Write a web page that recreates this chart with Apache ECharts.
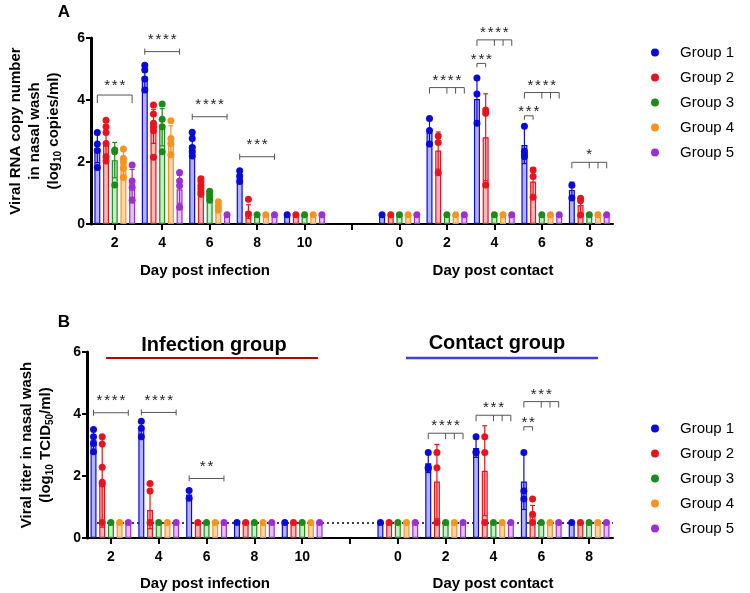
<!DOCTYPE html>
<html><head><meta charset="utf-8">
<script src="https://cdn.jsdelivr.net/npm/echarts@6/dist/echarts.min.js"></script>
<style>html,body{margin:0;padding:0;background:#fff}#c{width:750px;height:593px}</style>
</head><body><div id="c"></div>
<script>
// ---------- DATA ----------
const categories = ['2','4','6','8','10','','0','2','4','6','8'];
const groups = ['Group 1','Group 2','Group 3','Group 4','Group 5'];

// Panel A: viral RNA (log10 copies/ml) — bar heights (mean), SD, individual animals
const rnaMean = [
  [2.43, 4.75, 2.55, 1.55, 0.3, null, 0.3, 2.95, 4.03, 2.55, 1.10],
  [2.65, 3.15, 1.20, 0.40, 0.3, null, 0.3, 2.37, 2.80, 1.37, 0.61],
  [2.06, 3.12, 0.90, 0.30, 0.3, null, 0.3, 0.30, 0.30, 0.30, 0.30],
  [1.96, 2.72, 0.60, 0.30, 0.3, null, 0.3, 0.30, 0.30, 0.30, 0.30],
  [1.31, 1.12, 0.30, 0.30, 0.3, null, 0.3, 0.30, 0.30, 0.30, 0.30]
];
const rnaSD = [
  [0.45, 0.35, 0.30, 0.18, 0, null, 0, 0.45, 0.70, 0.60, 0.25],
  [0.50, 0.55, 0.20, 0.22, 0, null, 0, 0.60, 1.40, 0.45, 0.27],
  [0.57, 0.60, 0.12, 0, 0, null, 0, 0, 0, 0, 0],
  [0.40, 0.45, 0.12, 0, 0, null, 0, 0, 0, 0, 0],
  [0.45, 0.45, 0, 0, 0, null, 0, 0, 0, 0, 0]
];
const rnaPts = [
  [[2.95,2.58,2.37,1.82],[5.12,4.97,4.68,4.32],[2.96,2.76,2.47,2.33,2.19],[1.72,1.55,1.37],[0.3],[],[0.3],[3.40,3.02,2.58],[4.71,4.19,3.25],[3.15,2.35,2.23,2.17],[1.25,0.84]],
  [[3.35,3.14,2.95,2.60,2.17,2.03],[3.84,3.55,3.25,3.14,3.01,2.15],[1.46,1.37,1.25,1.15,1.04,0.96],[0.80,0.32],[0.3],[],[0.3],[2.84,2.63,1.65],[3.68,3.57,1.26],[1.74,1.53,0.86],[0.83,0.75,0.29]],
  [[2.39,2.33,1.26],[3.87,3.38,3.14,2.33],[1.06,0.97,0.88,0.77],[0.3],[0.3],[],[0.3],[0.3],[0.3],[0.3],[0.3]],
  [[2.42,2.12,2.01,1.80,1.50],[3.33,2.76,2.60,2.23],[0.72,0.58,0.45],[0.3],[0.3],[],[0.3],[0.3],[0.3],[0.3],[0.3]],
  [[1.90,1.39,1.18,0.77],[1.66,1.39,1.23,0.54],[0.3],[0.3],[0.3],[],[0.3],[0.3],[0.3],[0.3],[0.3]]
];

// Panel B: viral titer (log10 TCID50/ml)
const titerMean = [
  [3.15, 3.50, 1.40, 0.5, 0.5, null, 0.5, 2.41, 2.90, 1.82, 0.5],
  [1.80, 0.90, 0.50, 0.5, 0.5, null, 0.5, 1.82, 2.17, 0.75, 0.5],
  [0.5, 0.5, 0.5, 0.5, 0.5, null, 0.5, 0.5, 0.5, 0.5, 0.5],
  [0.5, 0.5, 0.5, 0.5, 0.5, null, 0.5, 0.5, 0.5, 0.5, 0.5],
  [0.5, 0.5, 0.5, 0.5, 0.5, null, 0.5, 0.5, 0.5, 0.5, 0.5]
];
const titerSD = [
  [0.30, 0.25, 0.15, 0, 0, null, 0, 0.30, 0.30, 0.90, 0],
  [1.45, 0.60, 0, 0, 0, null, 0, 1.20, 1.45, 0.30, 0],
  [0,0,0,0,0,null,0,0,0,0,0],
  [0,0,0,0,0,null,0,0,0,0,0],
  [0,0,0,0,0,null,0,0,0,0,0]
];
const titerPts = [
  [[3.50,3.27,3.05,2.78],[3.77,3.54,3.27],[1.53,1.28],[0.5],[0.5],[],[0.5],[2.76,2.28,2.24],[3.27,2.78,2.75],[2.76,1.52,1.26],[0.5]],
  [[3.27,3.03,2.28,1.80,1.74,0.5],[1.76,1.52,0.5],[0.5],[0.5],[0.5],[],[0.5],[2.76,2.27,0.5],[3.27,2.76,0.5],[1.26,0.77,0.5],[0.5]],
  [[0.5],[0.5],[0.5],[0.5],[0.5],[],[0.5],[0.5],[0.5],[0.5],[0.5]],
  [[0.5],[0.5],[0.5],[0.5],[0.5],[],[0.5],[0.5],[0.5],[0.5],[0.5]],
  [[0.5],[0.5],[0.5],[0.5],[0.5],[],[0.5],[0.5],[0.5],[0.5],[0.5]]
];
const detectionLimitB = 0.5;

// significance brackets: [category, fromGroup, toGroup, height, stars, kind]
const sigA = [
  [0, 0, 4, 4.16, 3, 'D'],
  [1, 0, 4, 5.56, 4, 'I'],
  [2, 0, 4, 3.46, 4, 'I'],
  [3, 0, 4, 2.17, 3, 'I'],
  [7, 0, 4, 4.40, 4, 'M'],
  [8, 0, 4, 5.94, 4, 'M'],
  [8, 0, 1, 5.18, 3, 'S'],
  [9, 0, 4, 4.24, 4, 'M'],
  [9, 0, 1, 3.49, 3, 'S'],
  [10, 0, 4, 1.99, 1, 'M']
];
const sigB = [
  [0, 0, 4, 4.04, 4, 'I'],
  [1, 0, 4, 4.05, 4, 'I'],
  [2, 0, 4, 1.92, 2, 'I'],
  [7, 0, 4, 3.38, 4, 'M'],
  [8, 0, 4, 3.96, 3, 'M'],
  [9, 0, 4, 4.40, 3, 'M'],
  [9, 0, 1, 3.59, 2, 'S']
];

// ---------- STYLE ----------
const FONT = '"Liberation Sans", Arial, sans-serif';
const cols  = ['#0a0ad8', '#e8141c', '#1e8a1e', '#f7941d', '#9b2fd4'];
const fills = ['#b3b3f3', '#f6b9b9', '#c4eec4', '#f9d4ae', '#e6bff3'];
const BAR_W = 6, GAP_PCT = 0.45, STEP = BAR_W * (1 + GAP_PCT);
const offs = g => (g - 2) * STEP;

const chart = echarts.init(document.getElementById('c'), null, {renderer: 'canvas'});

function panelSeries(p, mean, sd, pts) {
  const out = [];
  for (let g = 0; g < 5; g++) {
    const bar = {
      type: 'bar', name: groups[g], xAxisIndex: p, yAxisIndex: p,
      data: mean[g], barWidth: BAR_W, barGap: (GAP_PCT * 100) + '%', z: 2,
      itemStyle: {color: fills[g], borderColor: cols[g], borderWidth: 1.2},
      emphasis: {disabled: true}, silent: true
    };
    if (p === 1 && g === 0) {
      bar.markLine = {
        silent: true, symbol: 'none', z: 1, label: {show: false},
        lineStyle: {type: [2, 3], color: '#000', width: 1.6},
        data: [{yAxis: detectionLimitB}]
      };
    }
    out.push(bar);
    const errData = [];
    mean[g].forEach((m, i) => { if (m != null && sd[g][i]) errData.push([i, m, sd[g][i]]); });
    const col = cols[g];
    out.push({
      type: 'custom', name: groups[g], xAxisIndex: p, yAxisIndex: p, z: 3, silent: true,
      data: errData,
      renderItem: (params, api) => {
        const c = api.value(0), m = api.value(1), s = api.value(2);
        const top = api.coord([c, m + s]);
        const bot = api.coord([c, Math.max(m - s, 0)]);
        const x = top[0] + offs(g);
        const st = {stroke: col, lineWidth: 1.2};
        return {type: 'group', children: [
          {type: 'line', shape: {x1: x, y1: top[1], x2: x, y2: bot[1]}, style: st},
          {type: 'line', shape: {x1: x - 2.5, y1: top[1], x2: x + 2.5, y2: top[1]}, style: st},
          {type: 'line', shape: {x1: x - 2.5, y1: bot[1], x2: x + 2.5, y2: bot[1]}, style: st}
        ]};
      }
    });
    const dots = [];
    pts[g].forEach((arr, i) => arr.forEach(v => dots.push([i, v])));
    out.push({
      type: 'scatter', name: groups[g], xAxisIndex: p, yAxisIndex: p, z: 4, silent: true,
      data: dots, symbol: 'circle', symbolSize: 7, symbolOffset: [offs(g), 0],
      itemStyle: {color: cols[g], opacity: 1}
    });
  }
  return out;
}

function sigSeries(p, sig) {
  return {
    type: 'custom', xAxisIndex: p, yAxisIndex: p, z: 5, silent: true,
    data: sig.map((s, i) => [s[0], s[3], i]),
    renderItem: (params, api) => {
      const s = sig[api.value(2)];
      const pt = api.coord([s[0], s[3]]);
      const x1 = pt[0] + offs(s[1]), x2 = pt[0] + offs(s[2]), y = pt[1];
      const st = {stroke: '#555', lineWidth: 1};
      const ch = [{type: 'line', shape: {x1, y1: y, x2, y2: y}, style: st}];
      const kind = s[5];
      let starDy = 11;
      if (kind === 'I') {
        ch.push({type: 'line', shape: {x1, y1: y - 3, x2: x1, y2: y + 3}, style: st});
        ch.push({type: 'line', shape: {x1: x2, y1: y - 3, x2, y2: y + 3}, style: st});
        starDy = 16;
      } else if (kind === 'D') {
        ch.push({type: 'line', shape: {x1, y1: y, x2: x1, y2: y + 8}, style: st});
        ch.push({type: 'line', shape: {x1: x2, y1: y, x2, y2: y + 8}, style: st});
        starDy = 13;
      } else if (kind === 'M') {
        [0, 2, 3, 4].forEach(gg => {
          const xx = pt[0] + offs(gg);
          ch.push({type: 'line', shape: {x1: xx, y1: y, x2: xx, y2: y + 6}, style: st});
        });
        starDy = 11;
      } else if (kind === 'S') {
        ch.push({type: 'line', shape: {x1, y1: y, x2: x1, y2: y + 4}, style: st});
        ch.push({type: 'line', shape: {x1: x2, y1: y, x2, y2: y + 4}, style: st});
        starDy = 8;
      }
      const n = s[4], pitch = 7.6, cx = (x1 + x2) / 2;
      for (let k = 0; k < n; k++) {
        ch.push({type: 'text', style: {
          text: '*', x: cx + (k - (n - 1) / 2) * pitch, y: y - starDy + 4,
          align: 'center', verticalAlign: 'middle',
          font: '15px ' + FONT, fill: '#222'
        }});
      }
      return {type: 'group', children: ch};
    }
  };
}

const axisLabelStyle = {fontSize: 14, fontWeight: 'bold', color: '#000', fontFamily: FONT};
function xAx(p) {
  return {
    gridIndex: p, type: 'category', data: categories, boundaryGap: true,
    axisLine: {show: true, lineStyle: {color: '#000', width: 2}},
    axisTick: {show: true, alignWithLabel: true, interval: 0, length: 6, lineStyle: {color: '#000', width: 2}},
    axisLabel: Object.assign({interval: 0, margin: 12}, axisLabelStyle),
    splitLine: {show: false}
  };
}
const richY = {
  t: {fontSize: 15, fontWeight: 'bold', fontFamily: FONT, color: '#000', lineHeight: 19},
  s: {fontSize: 10, fontWeight: 'bold', fontFamily: FONT, color: '#000', lineHeight: 19, verticalAlign: 'bottom'}
};
function yAx(p, name, gap) {
  return {
    gridIndex: p, type: 'value', min: 0, max: 6, interval: 2,
    axisLine: {show: true, lineStyle: {color: '#000', width: 3}},
    axisTick: {show: true, length: 5, lineStyle: {color: '#000', width: 2}},
    axisLabel: Object.assign({margin: 6}, axisLabelStyle),
    splitLine: {show: false},
    name: name, nameLocation: 'middle', nameRotate: 90, nameGap: gap,
    nameTextStyle: {rich: richY, align: 'center'}
  };
}
function legend(top) {
  return {
    orient: 'vertical', left: 651, top: top, padding: 0,
    itemWidth: 40, itemHeight: 6, itemGap: 10, icon: 'circle',
    textStyle: {fontSize: 15, fontFamily: FONT, color: '#000', lineHeight: 15},
    selectedMode: false,
    data: groups.map((n, i) => ({name: n, itemStyle: {color: cols[i]}}))
  };
}
function txt(x, y, s, size, weight) {
  return {type: 'text', x, y, style: {text: s, font: (weight || 'bold') + ' ' + size + 'px ' + FONT,
    fill: '#000', align: 'center', verticalAlign: 'middle'}};
}

const option = {
  animation: false,
  backgroundColor: '#fff',
  grid: [
    {left: 87, top: 38, width: 526, height: 186},
    {left: 87, top: 352, width: 526, height: 186}
  ],
  xAxis: [xAx(0), xAx(1)],
  yAxis: [
    yAx(0, '{t|Viral RNA copy number}\n{t|in nasal wash}\n{t|(log}{s|10}{t| copies/ml)}', 28),
    yAx(1, '{t|Viral titer in nasal wash}\n{t|(log}{s|10}{t| TCID}{s|50}{t|/ml)}', 32)
  ],
  legend: [legend(45), legend(421)],
  series: [].concat(
    panelSeries(0, rnaMean, rnaSD, rnaPts),
    panelSeries(1, titerMean, titerSD, titerPts),
    [sigSeries(0, sigA), sigSeries(1, sigB)]
  ),
  graphic: [
    txt(64, 12, 'A', 17),
    txt(64, 322, 'B', 17),
    txt(205, 271, 'Day post infection', 15),
    txt(493, 271, 'Day post contact', 15),
    txt(205, 584, 'Day post infection', 15),
    txt(493, 584, 'Day post contact', 15),
    txt(214, 345, 'Infection group', 20),
    txt(497, 343, 'Contact group', 20),
    {type: 'line', shape: {x1: 106, y1: 358, x2: 318, y2: 358}, style: {stroke: '#c00000', lineWidth: 2}},
    {type: 'line', shape: {x1: 406, y1: 358, x2: 598, y2: 358}, style: {stroke: '#3f3fe0', lineWidth: 2.5}}
  ]
};
chart.setOption(option);
</script>
</body></html>
